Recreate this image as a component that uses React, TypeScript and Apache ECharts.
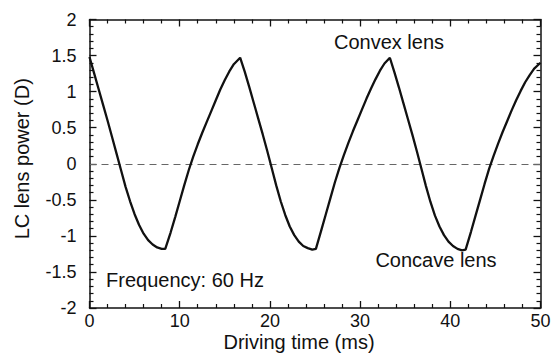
import React, { useEffect, useRef } from "react";
import * as echarts from "echarts";

// Driving time (ms)
const times: number[] = [
  0, 0.5, 1, 1.5, 2, 2.5, 3, 3.5, 4, 4.5, 5, 5.5, 6, 6.5, 7, 7.5, 8, 8.4,
  9, 9.5, 10, 10.5, 11, 11.5, 12, 12.5, 13, 13.5, 14, 14.5, 15, 15.5, 16, 16.7,
  17.2, 17.7, 18.2, 18.7, 19.2, 19.7, 20.2, 20.7, 21.2, 21.7, 22.2, 22.7, 23.2, 23.7, 24.2, 24.7, 25.1,
  25.7, 26.2, 26.7, 27.2, 27.7, 28.2, 28.7, 29.2, 29.7, 30.2, 30.7, 31.2, 31.7, 32.2, 32.7, 33.3,
  33.8, 34.3, 34.8, 35.3, 35.8, 36.3, 36.8, 37.3, 37.8, 38.3, 38.8, 39.3, 39.8, 40.3, 40.8, 41.3, 41.7,
  42.3, 42.8, 43.3, 43.8, 44.3, 44.8, 45.3, 45.8, 46.3, 46.8, 47.3, 47.8, 48.3, 48.8, 49.3, 50,
];

// LC lens power (D)
const power: number[] = [
  1.48, 1.26, 1.04, 0.82, 0.6, 0.37, 0.14, -0.09, -0.32, -0.52, -0.7, -0.85, -0.97, -1.06, -1.12, -1.16, -1.18, -1.18,
  -0.95, -0.74, -0.52, -0.3, -0.09, 0.1, 0.27, 0.43, 0.58, 0.73, 0.88, 1.03, 1.16, 1.28, 1.38, 1.47,
  1.28, 1.07, 0.85, 0.63, 0.41, 0.18, -0.06, -0.3, -0.52, -0.71, -0.87, -0.99, -1.08, -1.14, -1.17, -1.19, -1.18,
  -0.92, -0.7, -0.48, -0.26, -0.06, 0.12, 0.29, 0.45, 0.6, 0.75, 0.9, 1.04, 1.17, 1.29, 1.39, 1.47,
  1.27, 1.06, 0.84, 0.62, 0.4, 0.17, -0.07, -0.31, -0.53, -0.72, -0.87, -0.99, -1.08, -1.14, -1.18, -1.2, -1.19,
  -0.94, -0.72, -0.5, -0.28, -0.07, 0.11, 0.28, 0.44, 0.59, 0.74, 0.88, 1.01, 1.13, 1.23, 1.32, 1.4,
];

const xTicks = { min: 0, max: 50, interval: 10 };
const yTicks = { min: -2, max: 2, interval: 0.5 };

const annotations: { text: string; x: number; y: number }[] = [
  { text: "Convex lens", x: 389, y: 42 },
  { text: "Concave lens", x: 436, y: 260 },
  { text: "Frequency: 60 Hz", x: 185, y: 280 },
];

const FONT = "'Liberation Sans', Arial, Helvetica, sans-serif";

export default function App() {
  const ref = useRef<HTMLDivElement>(null);
  useEffect(() => {
    if (!ref.current) return;
    const chart = echarts.init(ref.current, undefined, { renderer: "svg" });
    const axisColor = "#111";
    const lineStyle = { color: axisColor, width: 1.5 };
    const common = {
      type: "value" as const,
      axisLine: { show: true, onZero: false, lineStyle },
      axisTick: { show: true, inside: true, length: 7, lineStyle: { color: axisColor, width: 1.3 } },
      minorTick: { show: true, splitNumber: 5, length: 4, lineStyle: { color: axisColor, width: 1.2 } },
      splitLine: { show: false },
      minorSplitLine: { show: false },
    };
    const data = times.map((t, i) => [t, power[i]]);
    chart.setOption({
      animation: false,
      backgroundColor: "#fff",
      textStyle: { fontFamily: FONT },
      grid: {
        left: 89.5,
        right: 11.5,
        top: 19.5,
        bottom: 48,
        containLabel: false,
        outerBoundsMode: "none",
      },
      xAxis: [
        {
          ...common,
          ...xTicks,
          position: "bottom",
          axisLabel: { fontSize: 18, lineHeight: 18, color: axisColor, margin: 4, fontFamily: FONT },
          name: "Driving time (ms)",
          nameLocation: "middle",
          nameGap: 24,
          nameMoveOverlap: false,
          nameTextStyle: {
            fontSize: 20,
            lineHeight: 20,
            color: axisColor,
            fontFamily: FONT,
            padding: [0, 32, 0, 0],
          },
        },
        {
          ...common,
          ...xTicks,
          position: "top",
          axisLabel: { show: false },
        },
      ],
      yAxis: [
        {
          ...common,
          ...yTicks,
          position: "left",
          axisLabel: { fontSize: 18, color: axisColor, margin: 13, fontFamily: FONT },
          name: "LC lens power (D)",
          nameLocation: "middle",
          nameGap: 58,
          nameMoveOverlap: false,
          nameTextStyle: { fontSize: 20, color: axisColor, fontFamily: FONT, padding: [0, 0, 0, 10] },
        },
        {
          ...common,
          ...yTicks,
          position: "right",
          axisLabel: { show: false },
        },
      ],
      series: [
        {
          type: "line",
          data,
          showSymbol: false,
          smooth: false,
          lineStyle: { color: "#111", width: 2.3 },
          z: 3,
          markLine: {
            silent: true,
            symbol: "none",
            label: { show: false },
            lineStyle: { color: "#666", width: 1, type: [7, 5] },
            data: [{ yAxis: 0 }],
            z: 1,
          },
        },
      ],
      graphic: annotations.map((a) => ({
        type: "text",
        x: a.x,
        y: a.y,
        style: {
          text: a.text,
          fontSize: 20,
          fontFamily: FONT,
          fill: "#111",
          align: "center",
          verticalAlign: "middle",
        },
      })),
    });
    return () => chart.dispose();
  }, []);
  return (
    <div
      ref={ref}
      style={{ position: "fixed", left: 0, top: 0, width: 552, height: 356, background: "#fff" }}
    />
  );
}
